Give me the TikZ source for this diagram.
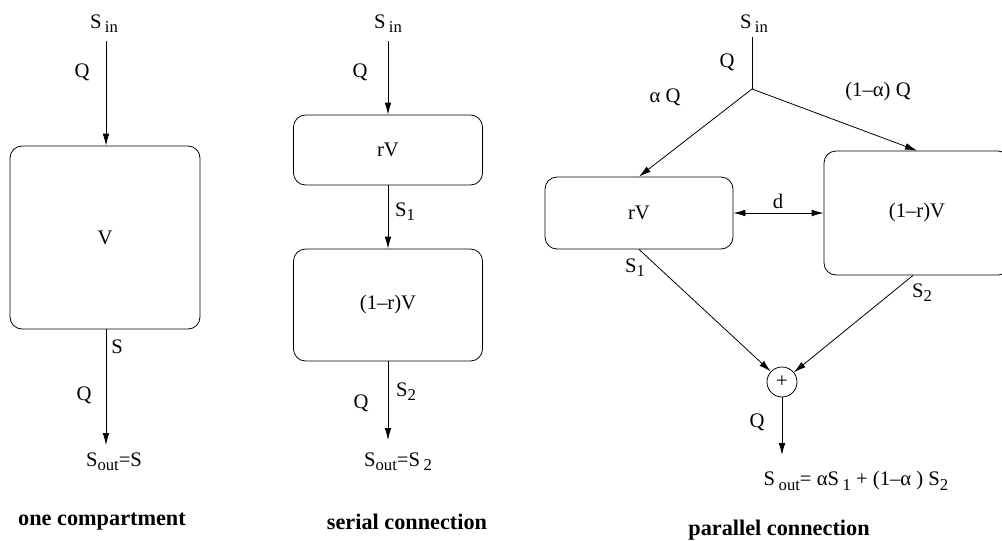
\documentclass[tikz,border=0pt]{standalone}
\usepackage{fontspec}
\setmainfont{Liberation Serif}
\usetikzlibrary{shapes,arrows.meta}
\usetikzlibrary{positioning}

\newcommand{\lo}[1]{\raisebox{-0.45ex}{\fontsize{12.5}{13}\selectfont #1}}

\begin{document}
\begin{tikzpicture}[x=0.75pt, y=-0.75pt, line width=0.6pt,
  >={Latex[length=9pt,width=5pt]},
  font=\fontsize{15.5}{17}\selectfont,
  comp/.style={draw, rounded corners=9pt, align=center},
  lbl/.style={inner sep=0pt},
  title/.style={inner sep=0pt, font=\fontsize{16.7}{19}\selectfont\bfseries}]
  \useasboundingbox (0,0) rectangle (1002,540);
  \clip (0,0) rectangle (1002,540);

  % one compartment
  \coordinate (in1) at (106,41);
  \coordinate (out1) at (106,445);
  \node[comp, minimum width=142.5pt, minimum height=137.25pt] (v1) at (105,237.5) {V};
  \node[lbl] (sin1) at (104,24) {S\,\lo{in}};
  \node[lbl] (q1a) at (82,72) {Q};
  \node[lbl] (s1) at (117,347) {S};
  \node[lbl] (q1b) at (84,395) {Q};
  \node[lbl] (sout1) at (114,462) {S\lo{out}=S};
  \node[title] (t1) at (102,522) {one compartment};
  \draw[->] (in1) -- (in1 |- v1.north);
  \draw[->] (out1 |- v1.south) -- (out1);

  % serial connection
  \coordinate (in2) at (388,41);
  \coordinate (out2) at (388,440);
  \node[comp, minimum width=141.75pt, minimum height=52.5pt] (rv2) at (388,150) {rV};
  \node[comp, minimum width=141.75pt, minimum height=84pt] (rrv2) at (388,305) {(1–r)V};
  \node[lbl] (sin2) at (388,24) {S\,\lo{in}};
  \node[lbl] (q2a) at (360,72) {Q};
  \node[lbl] (s12) at (405,212) {S\lo{1}};
  \node[lbl] (s22) at (406,392) {S\lo{2}};
  \node[lbl] (q2b) at (361,403) {Q};
  \node[lbl] (sout2) at (398,462) {S\lo{out}=S\,\lo{2}};
  \node[title] (t2) at (407,522) {serial connection};
  \draw[->] (in2) -- (rv2);
  \draw[->] (rv2) -- (rrv2);
  \draw[->] (rrv2) -- (out2);

  % parallel connection
  \coordinate (in3) at (752,37);
  \coordinate (split) at (752,89);
  \coordinate (out3) at (782,455);
  \node[comp, minimum width=141pt, minimum height=54pt] (rv3) at (639,213) {rV};
  \node[comp, minimum width=139.5pt, minimum height=93pt] (rrv3) at (917,213) {(1–r)V};
  \node[draw, circle, minimum size=22.5pt, inner sep=0pt] (plus) at (782,382) {+};
  \node[lbl] (sin3) at (754,24) {S\,\lo{in}};
  \node[lbl] (q3a) at (727,62) {Q};
  \node[lbl] (aq) at (665,97) {α Q};
  \node[lbl] (raq) at (878,92) {(1–α) Q};
  \node[lbl] (d3) at (778,201) {d};
  \node[lbl] (s13) at (635,268) {S\lo{1}};
  \node[lbl] (s23) at (922,293) {S\lo{2}};
  \node[lbl] (q3b) at (757,422) {Q};
  \node[lbl] (sout3) at (856,481) {S\,\lo{out}= αS\,\lo{1} + (1–α ) S\lo{2}};
  \node[title] (t3) at (779,530) {parallel connection};
  \draw (in3) -- (split);
  \draw[->] (split) -- (rv3.north);
  \draw[->] (split) -- (rrv3.north);
  \draw[<->] (rv3) -- (rrv3);
  \draw[->] (rv3.south) -- (plus);
  \draw[->] ([xshift=-3pt]rrv3.south) -- (plus);
  \draw[->] (plus) -- (out3);
\end{tikzpicture}
\end{document}
